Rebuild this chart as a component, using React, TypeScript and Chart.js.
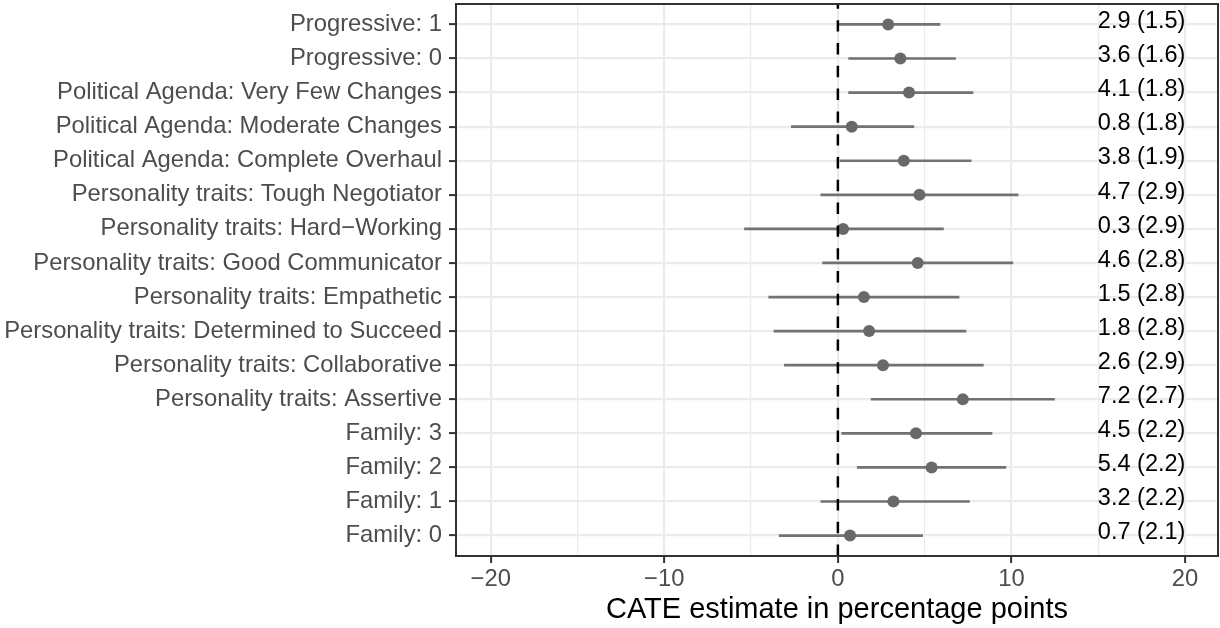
import React, { useEffect, useRef } from 'react';
import { Chart, registerables } from 'chart.js';

Chart.register(...registerables);

const categories = [
  'Progressive: 1',
  'Progressive: 0',
  'Political Agenda: Very Few Changes',
  'Political Agenda: Moderate Changes',
  'Political Agenda: Complete Overhaul',
  'Personality traits: Tough Negotiator',
  'Personality traits: Hard\u2212Working',
  'Personality traits: Good Communicator',
  'Personality traits: Empathetic',
  'Personality traits: Determined to Succeed',
  'Personality traits: Collaborative',
  'Personality traits: Assertive',
  'Family: 3',
  'Family: 2',
  'Family: 1',
  'Family: 0',
];

const estimates = [2.9, 3.6, 4.1, 0.8, 3.8, 4.7, 0.3, 4.6, 1.5, 1.8, 2.6, 7.2, 4.5, 5.4, 3.2, 0.7];
const stdErrors = [1.5, 1.6, 1.8, 1.8, 1.9, 2.9, 2.9, 2.8, 2.8, 2.8, 2.9, 2.7, 2.2, 2.2, 2.2, 2.1];
const ciLow = [0.0, 0.6, 0.6, -2.7, 0.1, -1.0, -5.4, -0.9, -4.0, -3.7, -3.1, 1.9, 0.2, 1.1, -1.0, -3.4];
const ciHigh = [5.9, 6.8, 7.8, 4.4, 7.7, 10.4, 6.1, 10.1, 7.0, 7.4, 8.4, 12.5, 8.9, 9.7, 7.6, 4.9];

const xMajorTicks = [-20, -10, 0, 10, 20];
const xMinorTicks = [-15, -5, 5, 15];
const xMin = -22;
const xMax = 21.9;
const refLineX = 0;
const labelX = 17.5;
const xTitle = 'CATE estimate in percentage points';

const FONT = "'Liberation Sans', Arial, Helvetica, sans-serif";

const fmtTick = (v: number) => (v < 0 ? '\u2212' + Math.abs(v) : String(v));

export default function App() {
  const ref = useRef<HTMLCanvasElement>(null);

  useEffect(() => {
    const canvas = ref.current;
    if (!canvas) return;
    const n = categories.length;

    const barDatasets = categories.map((_, i) => ({
      data: [
        { x: ciLow[i], y: i },
        { x: ciHigh[i], y: i },
      ],
      showLine: true,
      borderColor: '#727272',
      borderWidth: 2.7,
      pointRadius: 0,
      pointHoverRadius: 0,
      fill: false,
    }));

    const datasets: any[] = [
      {
        data: [
          { x: refLineX, y: n - 1 + 0.6 },
          { x: refLineX, y: -0.6 },
        ],
        showLine: true,
        borderColor: '#000000',
        borderWidth: 2.5,
        borderDash: [11.4, 11.4],
        pointRadius: 0,
        pointHoverRadius: 0,
        fill: false,
      },
      {
        data: estimates.map((v, i) => ({ x: v, y: i })),
        backgroundColor: '#696969',
        borderWidth: 0,
        pointRadius: 6,
        pointHoverRadius: 6,
        showLine: false,
      },
      ...barDatasets,
    ];

    const overlay = {
      id: 'overlay',
      afterDatasetsDraw(chart: any) {
        const { ctx, scales, chartArea: a } = chart;
        const x = scales.x;
        const y = scales.y;
        ctx.save();
        ctx.font = `23.5px ${FONT}`;
        ctx.fillStyle = '#000000';
        ctx.textAlign = 'center';
        ctx.textBaseline = 'alphabetic';
        estimates.forEach((e, i) => {
          ctx.fillText(
            `${e.toFixed(1)} (${stdErrors[i].toFixed(1)})`,
            x.getPixelForValue(labelX),
            y.getPixelForValue(i) + 3.7
          );
        });
        ctx.strokeStyle = '#333333';
        ctx.lineWidth = 2;
        ctx.strokeRect(a.left, a.top, a.right - a.left, a.bottom - a.top);
        ctx.restore();
      },
    };

    const chart = new Chart(canvas, {
      type: 'scatter',
      data: { datasets },
      options: {
        animation: false,
        responsive: false,
        devicePixelRatio: 1,
        events: [],
        layout: { autoPadding: false, padding: { top: 4, right: 2, left: 0, bottom: 0 } },
        plugins: {
          legend: { display: false },
          tooltip: { enabled: false },
        },
        scales: {
          x: {
            type: 'linear',
            min: xMin,
            max: xMax,
            afterBuildTicks: (s: any) => {
              s.ticks = [...xMajorTicks, ...xMinorTicks]
                .sort((a, b) => a - b)
                .map((v) => ({ value: v }));
            },
            afterFit: (s: any) => {
              s.height = 72;
              s.paddingLeft = 0;
              s.paddingRight = 0;
            },
            ticks: {
              autoSkip: false,
              maxRotation: 0,
              padding: 2,
              color: '#4D4D4D',
              font: { family: FONT, size: 23.8 },
              callback: (v: any) => (xMajorTicks.includes(Number(v)) ? fmtTick(Number(v)) : ''),
            },
            grid: {
              color: '#EBEBEB',
              lineWidth: (c: any) => (c.tick && xMajorTicks.includes(c.tick.value) ? 2.2 : 1.2),
              tickLength: 7,
              tickWidth: 2,
              tickColor: (c: any) =>
                c.tick && xMajorTicks.includes(c.tick.value) ? '#333333' : 'rgba(0,0,0,0)',
            },
            border: { display: false },
            title: {
              display: true,
              text: xTitle,
              color: '#000000',
              font: { family: FONT, size: 29 },
              padding: { top: 0, bottom: 1 },
            },
          },
          y: {
            type: 'linear',
            min: -0.6,
            max: n - 1 + 0.6,
            reverse: true,
            afterBuildTicks: (s: any) => {
              s.ticks = categories.map((_, i) => ({ value: i }));
            },
            afterFit: (s: any) => {
              s.width = 456;
              s.paddingTop = 0;
              s.paddingBottom = 0;
            },
            ticks: {
              autoSkip: false,
              padding: 7,
              color: '#4D4D4D',
              font: { family: FONT, size: 23.8 },
              callback: (v: any) => categories[Number(v)] ?? '',
            },
            grid: {
              color: '#EBEBEB',
              lineWidth: 2.2,
              tickLength: 7,
              tickWidth: 2,
              tickColor: '#333333',
            },
            border: { display: false },
          },
        },
      } as any,
      plugins: [overlay],
    });

    return () => chart.destroy();
  }, []);

  return (
    <div style={{ position: 'fixed', left: 0, top: 0, width: 1220, height: 628, background: '#ffffff' }}>
      <canvas ref={ref} width={1220} height={628} style={{ width: '1220px', height: '628px', display: 'block' }} />
    </div>
  );
}
